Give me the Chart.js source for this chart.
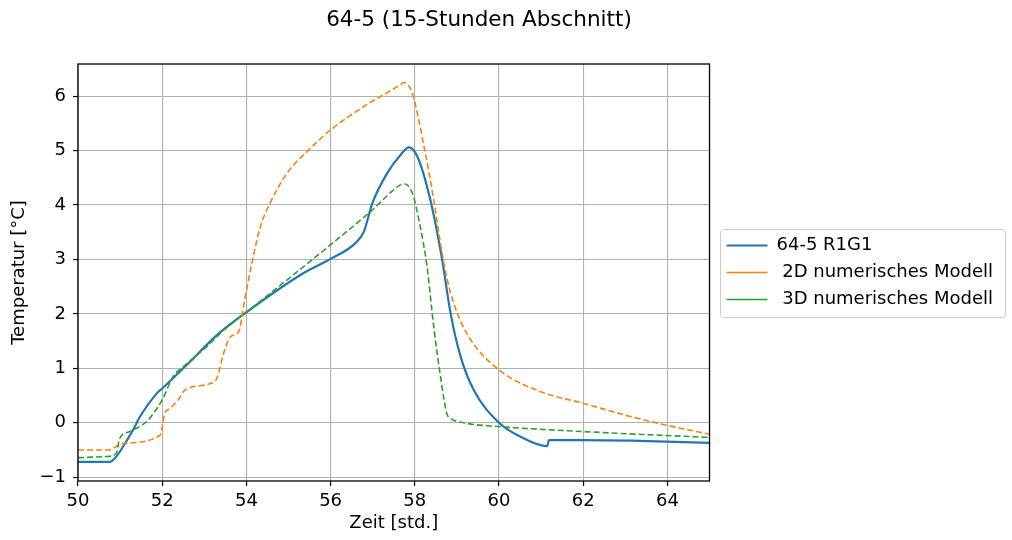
<!DOCTYPE html>
<html>
<head>
<meta charset="utf-8">
<script src="https://cdn.jsdelivr.net/npm/chart.js@4"></script>
<style>
  html, body { margin: 0; padding: 0; background: #fff; }
  #wrap { width: 1012px; height: 540px; }
</style>
</head>
<body>
<div id="wrap"><canvas id="chart" width="1012" height="540"></canvas></div>
<script>
// 64-5: Messung R1G1 gegen 2D- und 3D-Modell, Abschnitt 50..65 h

const titleText = '64-5 (15-Stunden Abschnitt)';
const seriesNames = ['64-5 R1G1', ' 2D numerisches Modell', ' 3D numerisches Modell'];

const xTicks = [50, 52, 54, 56, 58, 60, 62, 64];
const yTicks = [-1, 0, 1, 2, 3, 4, 5, 6];

const r1g1X = [50, 50.75, 50.91, 51.1, 51.31, 51.47, 51.87, 52.0, 52.58, 53.3, 54.0, 55.36, 56.0, 56.59, 56.79, 56.99, 57.34, 57.66, 57.86, 58.06, 58.37, 58.65, 58.85, 59.09, 59.4, 60.0, 60.52, 61.14, 61.19, 61.95, 63.14, 65.0];
const r1g1Y = [-0.72, -0.72, -0.62, -0.4, -0.13, 0.11, 0.54, 0.63, 1.06, 1.61, 2.03, 2.75, 3.01, 3.30, 3.51, 4.03, 4.58, 4.92, 5.06, 4.89, 4.09, 2.99, 2.01, 1.21, 0.60, 0, -0.26, -0.43, -0.32, -0.32, -0.33, -0.37];

const mod2dX = [50, 50.72, 51.07, 51.95, 52.06, 52.18, 52.38, 52.54, 53.14, 53.30, 53.46, 53.62, 53.83, 53.93, 54.13, 54.33, 54.56, 54.96, 55.52, 56.0, 56.79, 57.66, 57.74, 57.94, 58.22, 58.45, 58.65, 58.81, 59.01, 59.33, 60.0, 60.99, 61.99, 63.14, 64.01, 65.0];
const mod2dY = [-0.5, -0.5, -0.38, -0.23, 0.17, 0.26, 0.42, 0.60, 0.72, 0.82, 1.28, 1.58, 1.69, 2.13, 2.93, 3.60, 4.03, 4.58, 5.04, 5.38, 5.81, 6.21, 6.25, 6.05, 5.07, 4.09, 3.11, 2.50, 2.01, 1.52, 0.97, 0.57, 0.36, 0.11, -0.05, -0.21];

const mod3dX = [50, 50.68, 50.91, 50.99, 51.23, 51.63, 51.79, 52.0, 52.26, 52.5, 53.06, 53.46, 54.0, 56.0, 56.95, 57.66, 57.74, 57.94, 58.13, 58.29, 58.45, 58.61, 58.76, 58.85, 59.16, 60.0, 61.95, 65.0];
const mod3dY = [-0.64, -0.62, -0.56, -0.29, -0.16, 0.02, 0.17, 0.42, 0.85, 1.03, 1.40, 1.70, 2.03, 3.27, 3.88, 4.37, 4.39, 4.22, 3.60, 2.87, 1.76, 0.85, 0.17, 0.08, 0, -0.07, -0.16, -0.27];

const FONT = 'DejaVu Sans';
const FS = 18;

function pts(xs, ys) {
  return xs.map((x, i) => ({ x: x, y: ys[i] }));
}

// Rahmen um Plotbereich, Legendenrahmen, Titel
const extras = {
  id: 'extras',
  afterDraw(chart) {
    const ctx = chart.ctx;
    const a = chart.chartArea;
    ctx.save();
    ctx.strokeStyle = '#000';
    ctx.lineWidth = 1.3;
    ctx.strokeRect(a.left, a.top, a.right - a.left, a.bottom - a.top);

    const hb = chart.legend && chart.legend.legendHitBoxes;
    if (hb && hb.length) {
      const l = Math.min(...hb.map(h => h.left)) - 7;
      const r = Math.max(...hb.map(h => h.left + h.width)) + 12;
      const t = hb[0].top - 8;
      const b = hb[hb.length - 1].top + hb[hb.length - 1].height + 8;
      ctx.strokeStyle = '#cccccc';
      ctx.lineWidth = 1;
      ctx.beginPath();
      ctx.roundRect(Math.round(l) + 0.5, Math.round(t) + 0.5, Math.round(r - l), Math.round(b - t), 3);
      ctx.stroke();
    }

    ctx.fillStyle = '#000';
    ctx.font = '21.5px "' + FONT + '"';
    ctx.textAlign = 'center';
    ctx.textBaseline = 'middle';
    ctx.fillText(titleText, 479, 20);
    ctx.restore();
  }
};

new Chart(document.getElementById('chart'), {
  type: 'line',
  data: {
    datasets: [{
      label: seriesNames[0],
      data: pts(r1g1X, r1g1Y),
      borderColor: '#1f77b4',
      backgroundColor: '#1f77b4',
      borderWidth: 2.2,
      order: 3
    }, {
      label: seriesNames[1],
      data: pts(mod2dX, mod2dY),
      borderColor: '#ff7f0e',
      backgroundColor: '#ff7f0e',
      borderWidth: 1.6,
      borderDash: [6, 3],
      order: 2
    }, {
      label: seriesNames[2],
      data: pts(mod3dX, mod3dY),
      borderColor: '#2ca02c',
      backgroundColor: '#2ca02c',
      borderWidth: 1.6,
      borderDash: [6, 3],
      order: 1
    }]
  },
  options: {
    responsive: false,
    animation: false,
    elements: { point: { radius: 0 }, line: { cubicInterpolationMode: 'monotone' } },
    layout: { padding: { top: 64, left: 0, right: 9, bottom: 0 } },
    plugins: {
      title: { display: false },
      tooltip: { enabled: false },
      legend: {
        position: 'right',
        fullSize: false,
        maxWidth: 400,
        labels: {
          usePointStyle: true,
          pointStyle: 'line',
          pointStyleWidth: 41,
          padding: 9,
          color: '#000',
          font: { family: FONT, size: FS },
          sort: (a, b) => a.datasetIndex - b.datasetIndex
        }
      }
    },
    scales: {
      x: {
        type: 'linear',
        min: 50,
        max: 65,
        afterBuildTicks: s => { s.ticks = xTicks.map(v => ({ value: v })); },
        afterFit: s => { s.height = 59; },
        grid: { color: '#b0b0b0', lineWidth: 1.1, tickColor: '#000', tickLength: 5, tickWidth: 1.2 },
        border: { display: false },
        ticks: { color: '#000', padding: 5, maxRotation: 0, font: { family: FONT, size: FS } },
        title: { display: true, text: 'Zeit [std.]', color: '#000', padding: { top: 4, bottom: 6 }, font: { family: FONT, size: FS } }
      },
      y: {
        type: 'linear',
        min: -1.07,
        max: 6.59,
        afterBuildTicks: s => { s.ticks = yTicks.map(v => ({ value: v })); },
        afterFit: s => { s.width = 78; },
        grid: { color: '#b0b0b0', lineWidth: 1.1, tickColor: '#000', tickLength: 5, tickWidth: 1.2 },
        border: { display: false },
        ticks: { color: '#000', padding: 7, font: { family: FONT, size: FS },
          callback: v => String(v).replace('-', '\u2212') },
        title: { display: true, text: 'Temperatur [°C]', color: '#000', padding: { top: 9, bottom: 4 }, font: { family: FONT, size: FS } }
      },
      gap: {
        type: 'linear',
        position: 'right',
        display: true,
        afterFit: s => { s.width = 8; },
        grid: { display: false, drawTicks: false },
        border: { display: false },
        ticks: { display: false }
      }
    }
  },
  plugins: [extras]
});
</script>
</body>
</html>
